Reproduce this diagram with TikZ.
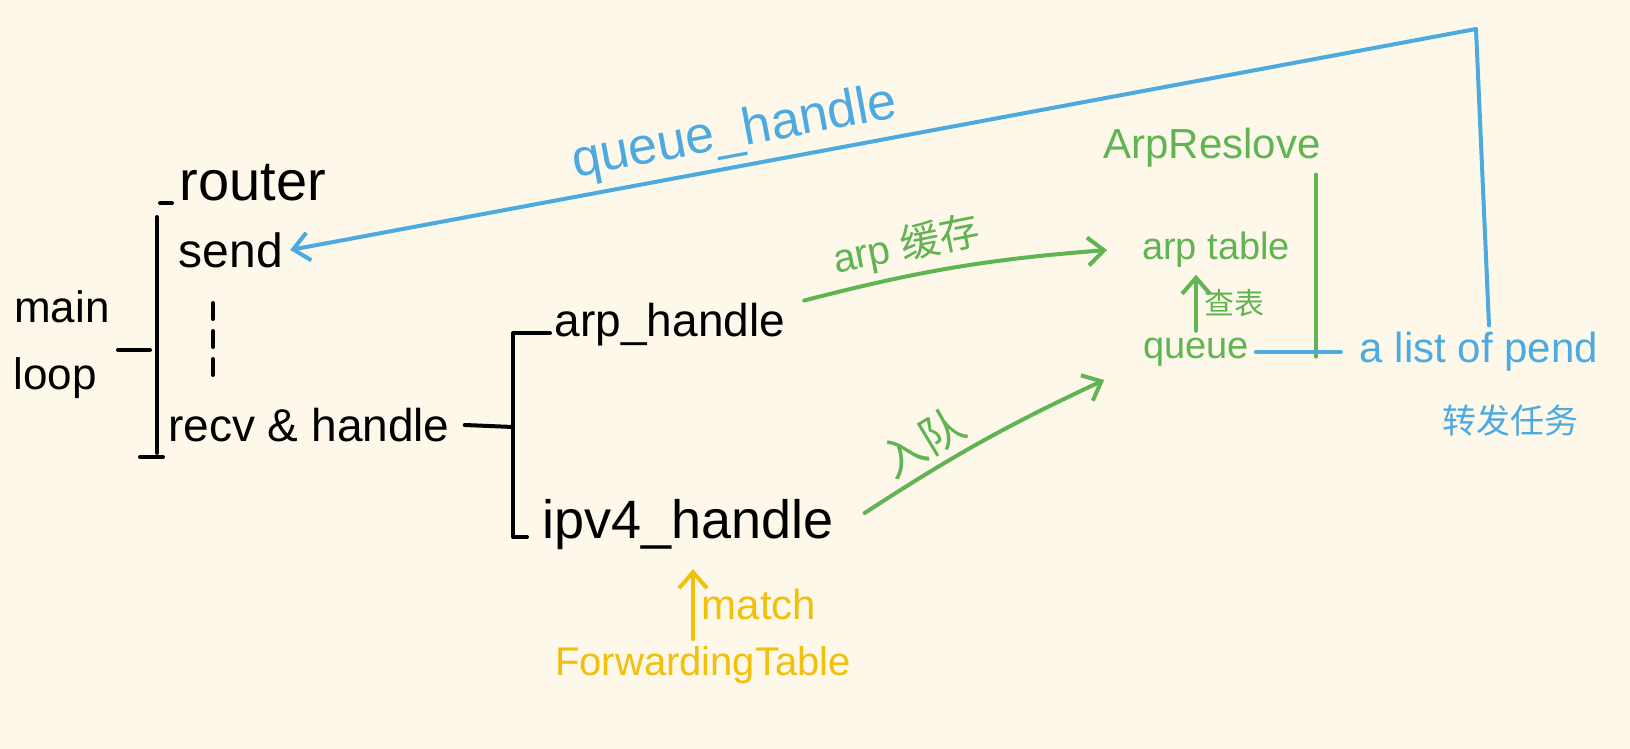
\documentclass[tikz,border=0pt]{standalone}
\usepackage{fontspec}
\setmainfont{Liberation Sans}
\newfontfamily\cjk{Noto Sans CJK SC}
\usetikzlibrary{arrows.meta}

\definecolor{paper}{RGB}{253,248,234}
\definecolor{arpgreen}{RGB}{96,180,82}
\definecolor{qblue}{RGB}{76,170,224}
\definecolor{fwdyellow}{RGB}{240,192,12}
\newcommand{\fsz}[1]{\fontsize{#1}{#1}\selectfont}
\tikzset{
  pen/.style={line width=2pt, line cap=round, line join=round},
  gpen/.style={pen, arpgreen},
  bpen/.style={pen, qblue},
  ypen/.style={pen, fwdyellow},
}

\begin{document}
\begin{tikzpicture}[x=0.5pt, y=-0.5pt, >={Straight Barb[length=8pt,width=14pt]}]
\fill[paper] (0,0) rectangle (1630,749);
\useasboundingbox (0,0) rectangle (1630,749);

% router side
\node (router) at (253,183) {\fsz{28}router};
\node (send) at (231,250) {\fsz{24}send};
\node (recv) at (309,425) {\fsz{23}recv \& handle};
\node (main) at (62,307) {\fsz{22}main};
\node (loop) at (55,378) {\fsz{22}loop};
\draw[pen] (118,350) -- (150,350);
\draw[pen] (160,203) -- (172,203);
\draw[pen] (157,217) -- (157,453);
\draw[pen] (140,457) -- (163,457);
\draw[pen, dash pattern=on 8pt off 6pt] (213,303) -- (213,385);

% handlers
\node (arph) at (670,325) {\fsz{23}arp\_handle};
\node (ipvh) at (688,525) {\fsz{27}ipv4\_handle};
\node[fwdyellow] (fwd) at (703,665) {\fsz{20}ForwardingTable};
\draw[pen] ([xshift=4]recv.east) -- (513,427);
\draw[pen] (550,333) -- (513,333) -- (513,537) -- (527,537);
\draw[ypen,->] ([xshift=-5]fwd.north) -- ([xshift=-5,yshift=-6]fwd.north |- ipvh.south)
  node[midway,right] {\fsz{21}match};

% arp resolve
\node[arpgreen] (res) at (1212,148) {\fsz{21}ArpReslove};
\node[arpgreen] (atab) at (1216,250) {\fsz{19}arp table};
\node[arpgreen] (queue) at (1196,352) {\fsz{19}queue};
\node[qblue] (pend) at (1479,352) {\fsz{21}a list of pend};
\node[qblue] (task) at (1510,421) {\fsz{17}\cjk 转发任务};
\coordinate (corner) at (1476,29);
\draw[gpen] ([xshift=-6]res.south east) -- ++(0,182);
\draw[gpen,->] (queue.north) -- (queue.north |- atab.south)
  node[midway,right] {\fsz{15}\cjk 查表};
\draw[gpen,->] ([xshift=6,yshift=-2]arph.north east) to[bend left=5]
  node[above,sloped,pos=0.35] {\fsz{20}arp \cjk 缓存} ([xshift=-14]atab.west);
\draw[gpen,->] ([xshift=12,yshift=6]ipvh.east) to[bend left=4]
  node[above,sloped,pos=0.3] {\fsz{22}\cjk 入队} ([xshift=-16,yshift=-14]queue.west);

% queue handle back to send
\draw[bpen] (queue.east) -- ([xshift=-6]pend.west);
\draw[bpen,->] ([xshift=5]pend.north) -- (corner)
  -- node[sloped,above,pos=0.62] {\fsz{26}queue\_handle} (send.east);
\end{tikzpicture}
\end{document}
